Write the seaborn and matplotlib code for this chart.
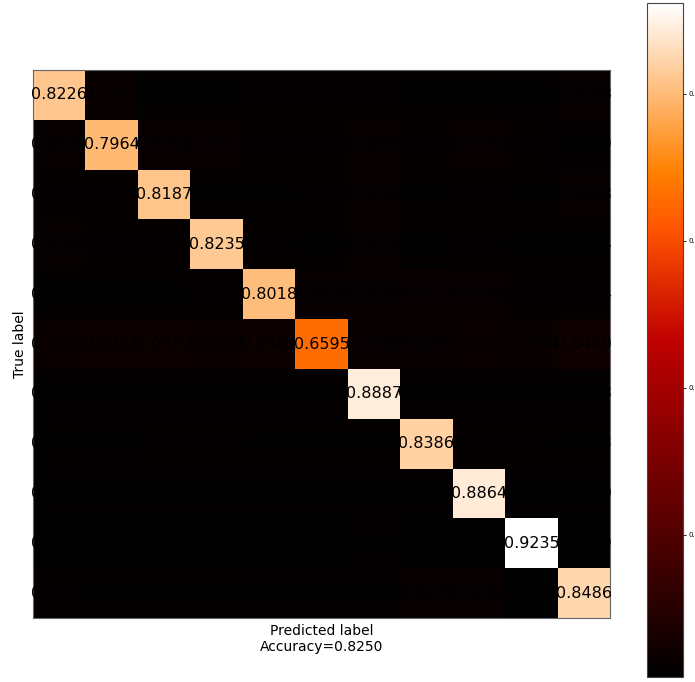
import numpy as np
import pandas as pd
import matplotlib
matplotlib.use("Agg")
import matplotlib.pyplot as plt
import seaborn as sns

# Normalised confusion matrix (rows = true class, columns = predicted class)
row_0 = [0.8226, 0.0287, 0.0150, 0.0160, 0.0172, 0.0187, 0.0200, 0.0140, 0.0150, 0.0120, 0.0208]
row_1 = [0.0209, 0.7964, 0.0259, 0.0257, 0.0180, 0.0170, 0.0225, 0.0196, 0.0250, 0.0191, 0.0099]
row_2 = [0.0190, 0.0185, 0.8187, 0.0160, 0.0150, 0.0170, 0.0213, 0.0150, 0.0197, 0.0160, 0.0238]
row_3 = [0.0209, 0.0185, 0.0176, 0.8235, 0.0200, 0.0160, 0.0217, 0.0150, 0.0174, 0.0140, 0.0154]
row_4 = [0.0160, 0.0155, 0.0150, 0.0200, 0.8018, 0.0216, 0.0230, 0.0251, 0.0266, 0.0170, 0.0184]
row_5 = [0.0317, 0.0381, 0.0357, 0.0325, 0.0381, 0.6595, 0.0262, 0.0268, 0.0341, 0.0294, 0.0460]
row_6 = [0.0100, 0.0110, 0.0120, 0.0110, 0.0100, 0.0130, 0.8887, 0.0110, 0.0100, 0.0120, 0.0113]
row_7 = [0.0140, 0.0130, 0.0177, 0.0176, 0.0150, 0.0140, 0.0150, 0.8386, 0.0202, 0.0186, 0.0163]
row_8 = [0.0110, 0.0100, 0.0120, 0.0110, 0.0100, 0.0120, 0.0126, 0.0130, 0.8864, 0.0100, 0.0120]
row_9 = [0.0070, 0.0060, 0.0080, 0.0070, 0.0060, 0.0090, 0.0106, 0.0080, 0.0080, 0.9235, 0.0069]
row_10 = [0.0180, 0.0160, 0.0150, 0.0140, 0.0120, 0.0130, 0.0110, 0.0229, 0.0224, 0.0071, 0.8486]

accuracy = 0.8250
cbar_ticks = [0.2, 0.4, 0.6, 0.8]

cm = pd.DataFrame([row_0, row_1, row_2, row_3, row_4, row_5, row_6,
                   row_7, row_8, row_9, row_10])

fig = plt.figure(figsize=(6.95, 6.82), dpi=100)
ax = fig.add_axes([0.0475, 0.0938, 0.8302, 0.8036])
cax = fig.add_axes([0.9309, 0.0073, 0.0518, 0.9883])

sns.heatmap(cm, ax=ax, cbar_ax=cax, cmap="gist_heat",
            annot=True, fmt=".4f",
            annot_kws={"color": "black", "fontsize": 11.5},
            xticklabels=False, yticklabels=False,
            cbar_kws={"ticks": cbar_ticks})

for side in ax.spines.values():
    side.set_visible(True)
    side.set_color("#666666")
    side.set_linewidth(0.8)

ax.set_xlabel(f"Predicted label\nAccuracy={accuracy:.4f}", fontsize=10)
ax.set_ylabel("True label", fontsize=10)

cax.tick_params(labelsize=5, length=2.5, width=0.6, pad=1.2)
cax.yaxis.set_major_formatter(matplotlib.ticker.FormatStrFormatter("%.1f"))
cb = ax.collections[0].colorbar
cb.outline.set_visible(True)
cb.outline.set_edgecolor("#444444")
cb.outline.set_linewidth(0.8)

fig.savefig("out.png", dpi=100)
